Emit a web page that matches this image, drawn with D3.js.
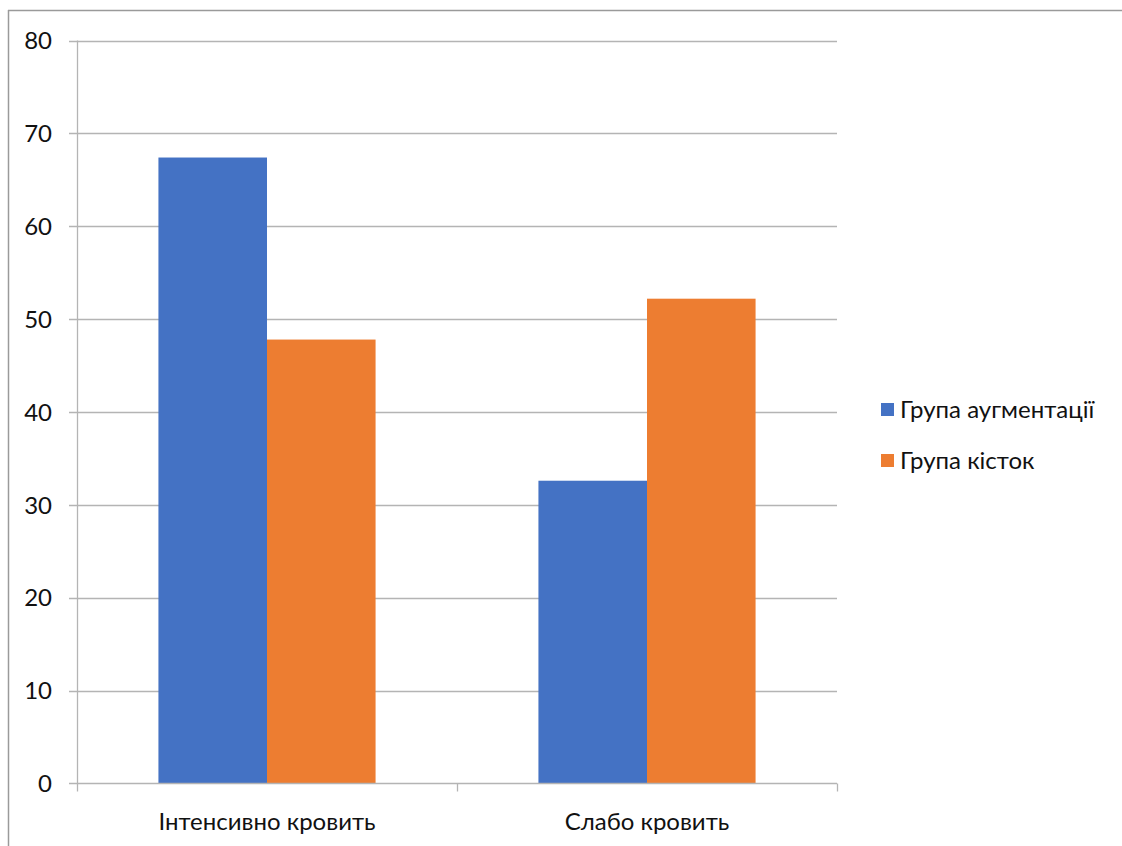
<!DOCTYPE html>
<html>
<head>
<meta charset="utf-8">
<script src="https://cdn.jsdelivr.net/npm/d3@7/dist/d3.min.js"></script>
<style>
  html, body { margin: 0; padding: 0; background: #fff; }
  svg { display: block; }
  text { font-family: Lato, "Open Sans", sans-serif; fill: #111; }
</style>
</head>
<body>
<svg id="chart" width="1122" height="846"></svg>
<script>
// Bleeding categories and the share of patients in each group (%)
const categories = ["Інтенсивно кровить", "Слабо кровить"];
const seriesNames = ["Група аугментації", "Група кісток"];
const augmentation = [67.4, 32.6];
const bone = [47.8, 52.2];
const yTicks = [0, 10, 20, 30, 40, 50, 60, 70, 80];
const colors = ["#4472C4", "#ED7D31"];

const svg = d3.select("#chart");

// Chart frame (top and left edges)
svg.append("line").attr("x1", 8).attr("x2", 1122).attr("y1", 10.5).attr("y2", 10.5)
  .attr("stroke", "#9a9a9a").attr("stroke-width", 1.5);
svg.append("line").attr("x1", 8.5).attr("x2", 8.5).attr("y1", 10).attr("y2", 846)
  .attr("stroke", "#9a9a9a").attr("stroke-width", 1.5);

const plot = { left: 77, right: 837, top: 40.5, bottom: 783.5 };

const x = d3.scaleBand().domain(categories).range([plot.left, plot.right])
  .paddingInner(0).paddingOuter(0);
// Gap between clusters is 150% of a bar width
const inner = d3.scaleBand().domain(seriesNames)
  .range([0, x.bandwidth()]).paddingInner(0).paddingOuter(0.75);
const y = d3.scaleLinear().domain([0, 80]).range([plot.bottom, plot.top]);

// Horizontal gridlines with short tick stubs on the left
const grid = svg.append("g");
grid.selectAll("line").data(yTicks.filter(d => d > 0)).join("line")
  .attr("x1", plot.left - 8).attr("x2", plot.right)
  .attr("y1", d => Math.round(y(d)) + 0.5).attr("y2", d => Math.round(y(d)) + 0.5)
  .attr("stroke", "#b4b4b4").attr("stroke-width", 1.3);

// Y axis labels
svg.append("g").selectAll("text").data(yTicks).join("text")
  .attr("x", 52).attr("y", d => y(d)).attr("dy", "0.36em")
  .attr("text-anchor", "end").attr("font-size", 24).text(d => d);

// Vertical axis line
svg.append("line").attr("x1", plot.left + 0.5).attr("x2", plot.left + 0.5)
  .attr("y1", plot.top).attr("y2", plot.bottom)
  .attr("stroke", "#b4b4b4").attr("stroke-width", 1.3);

// Bars
const data = categories.map((c, i) => ({ cat: c, vals: [augmentation[i], bone[i]] }));
const groups = svg.append("g").selectAll("g").data(data).join("g")
  .attr("transform", d => `translate(${x(d.cat)},0)`);
groups.selectAll("rect")
  .data(d => d.vals.map((v, j) => ({ name: seriesNames[j], v, j })))
  .join("rect")
  .attr("x", d => inner(d.name))
  .attr("width", inner.bandwidth())
  .attr("y", d => y(d.v))
  .attr("height", d => y(0) - y(d.v))
  .attr("fill", d => colors[d.j]);

// Category axis with tick marks at band boundaries
const xAxis = svg.append("g");
xAxis.append("line").attr("x1", plot.left - 8).attr("x2", plot.right)
  .attr("y1", plot.bottom).attr("y2", plot.bottom)
  .attr("stroke", "#b4b4b4").attr("stroke-width", 1.3);
const bounds = categories.map(c => x(c)).concat([x(categories[categories.length - 1]) + x.bandwidth()]);
xAxis.selectAll("line.tick").data(bounds).join("line").attr("class", "tick")
  .attr("x1", d => d + 0.5).attr("x2", d => d + 0.5)
  .attr("y1", plot.bottom).attr("y2", plot.bottom + 8)
  .attr("stroke", "#b4b4b4").attr("stroke-width", 1.3);
xAxis.selectAll("text").data(categories).join("text")
  .attr("x", d => x(d) + x.bandwidth() / 2).attr("y", 830)
  .attr("text-anchor", "middle").attr("font-size", 24).text(d => d);

// Legend
const legend = svg.append("g").selectAll("g").data(seriesNames).join("g")
  .attr("transform", (d, i) => `translate(881, ${409 + i * 51})`);
legend.append("rect").attr("x", 0).attr("y", -6).attr("width", 13).attr("height", 13)
  .attr("fill", (d, i) => colors[i]);
legend.append("text").attr("x", 19).attr("y", 0).attr("dy", "0.36em")
  .attr("font-size", 24).text(d => d);
</script>
</body>
</html>
